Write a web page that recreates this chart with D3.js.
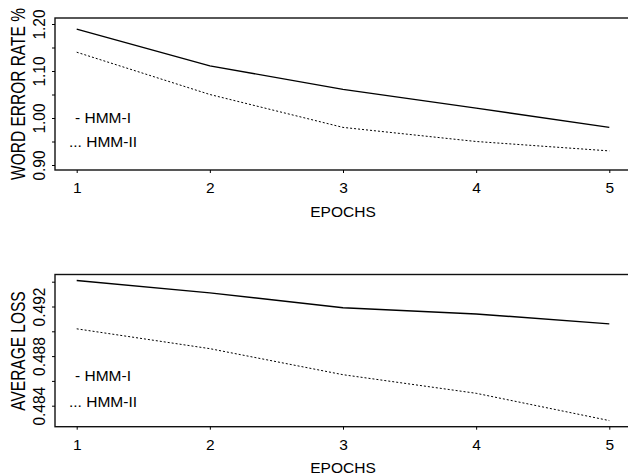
<!DOCTYPE html>
<meta charset="utf-8">
<head>
    <title>HMM epochs</title>
    <script type="text/javascript" src="https://cdn.jsdelivr.net/npm/d3@7"></script>
    <style>
        body { margin: 0; background: #fff; }
        text { font-family: "Liberation Sans", Arial, sans-serif; fill: #000; }
    </style>
</head>
<body>
    <div id="chart"></div>
    <script>
        // data
        var epochs = [1, 2, 3, 4, 5]
        var werHmm1 = [1.189, 1.111, 1.061, 1.021, 0.980]
        var werHmm2 = [1.140, 1.050, 0.980, 0.950, 0.930]
        var lossHmm1 = [0.4941, 0.4931, 0.4919, 0.4914, 0.4906]
        var lossHmm2 = [0.4902, 0.4886, 0.4865, 0.4850, 0.4828]
        var werTicks = [0.90, 0.95, 1.00, 1.05, 1.10, 1.15, 1.20]
        var werLabels = [0.90, 1.00, 1.10, 1.20]
        var lossTicks = [0.484, 0.486, 0.488, 0.490, 0.492, 0.494]
        var lossLabels = [0.484, 0.488, 0.492]
        var legendNames = ["- HMM-I", "... HMM-II"]

        var width = 628, height = 475

        var svg = d3.select("#chart").append("svg")
          .attr("width", width)
          .attr("height", height)

        var x = d3.scaleLinear().domain([1, 5]).range([76.7, 609.3])

        function panel(top, bottom, yDomain, yRange, ticks, labels, fmt, s1, s2, yTitle, titleY, legendY) {
          var y = d3.scaleLinear().domain(yDomain).range(yRange)
          var g = svg.append("g")

          // box, right side runs off the page
          g.append("rect")
            .attr("x", 55).attr("y", top)
            .attr("width", 620).attr("height", bottom - top)
            .attr("fill", "none").attr("stroke", "#111").attr("stroke-width", 1.4)

          var xa = g.append("g")
            .attr("transform", "translate(0," + bottom + ")")
            .call(d3.axisBottom(x).tickValues(epochs).tickSize(3).tickPadding(9.3).tickFormat(d3.format("d")))
          xa.select(".domain").remove()
          xa.selectAll("text").style("font-size", "15.5px")

          var ya = g.append("g")
            .attr("transform", "translate(55,0)")
            .call(d3.axisLeft(y).tickValues(ticks).tickSize(3)
              .tickFormat(function(d){ return labels.some(function(l){ return Math.abs(l - d) < 1e-9 }) ? fmt(d) : "" }))
          ya.select(".domain").remove()
          ya.selectAll("text")
            .attr("x", 0).attr("y", 0).attr("dy", 0)
            .attr("text-anchor", "middle")
            .attr("transform", "translate(-10,0) rotate(-90) scale(1,1.08)")
            .style("font-size", "15.5px")

          var line = d3.line().x(function(d, i){ return x(epochs[i]) }).y(function(d){ return y(d) })

          g.append("path").datum(s1)
            .attr("d", line).attr("fill", "none")
            .attr("stroke", "#000").attr("stroke-width", 1.4)
          g.append("path").datum(s2)
            .attr("d", line).attr("fill", "none")
            .attr("stroke", "#000").attr("stroke-width", 1).attr("stroke-dasharray", "2,2")

          g.append("text")
            .attr("transform", "translate(25," + titleY + ") rotate(-90) scale(1,1.25)")
            .attr("text-anchor", "middle")
            .style("font-size", "15.5px")
            .text(yTitle)

          g.selectAll(".leg")
            .data(legendNames)
            .enter().append("text")
              .attr("class", "leg")
              .attr("x", function(d, i){ return i == 0 ? 75 : 69 })
              .attr("y", function(d, i){ return legendY[i] })
              .style("font-size", "15.5px")
              .text(function(d){ return d })

          g.append("text")
            .attr("x", x(3)).attr("y", bottom + 46.7)
            .attr("text-anchor", "middle")
            .style("font-size", "15.5px")
            .text("EPOCHS")
        }

        panel(18, 170, [0.90, 1.20], [165, 24], werTicks, werLabels, d3.format(".2f"),
              werHmm1, werHmm2, "WORD ERROR RATE %", 94, [123.3, 146.7])
        panel(274.5, 426.7, [0.484, 0.494], [405.7, 281.7], lossTicks, lossLabels, d3.format(".3f"),
              lossHmm1, lossHmm2, "AVERAGE LOSS", 351, [380.7, 406.7])
    </script>
</body>
</html>
